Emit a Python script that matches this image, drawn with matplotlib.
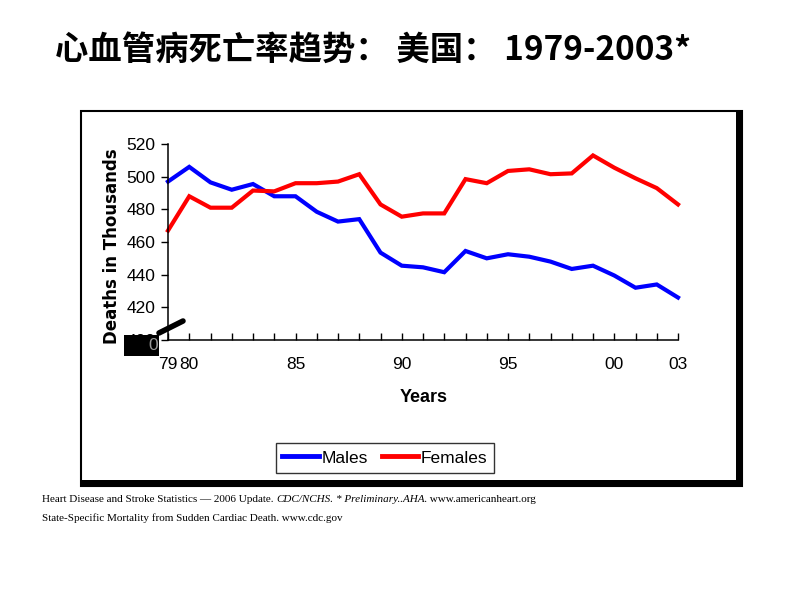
#!/usr/bin/env python3
"""CVD deaths in the US by sex, 1979-2003 (slide recreation)."""

import matplotlib

matplotlib.use("Agg")
import matplotlib.pyplot as plt
from matplotlib.lines import Line2D
from matplotlib.patches import Rectangle

years = list(range(1979, 2004))
males = [497, 506, 496.5, 492, 495.5, 488, 488, 478.5, 472.5, 474, 453.5, 445.5, 444.5,
         441.5, 454.5, 450, 452.5, 451, 448, 443.5, 445.5, 439.5, 432, 434, 426]
females = [467, 488, 481, 481, 491.5, 491, 496, 496, 497, 501.5, 483, 475.5, 477.5,
           477.5, 498.5, 496, 503.5, 504.5, 501.5, 502, 513, 505.5, 499, 493, 483]
tick_years = [1979, 1980, 1985, 1990, 1995, 2000, 2003]
tick_labels = ["79", "80", "85", "90", "95", "00", "03"]
yticks = [400, 420, 440, 460, 480, 500, 520]

W, H = 800, 600
SANS = ["Liberation Sans Narrow", "Liberation Sans"]


def fx(px):
    return px / W


def fy(py):
    return 1 - py / H


fig = plt.figure(figsize=(8, 6), dpi=100)
fig.patch.set_facecolor("white")

# title
fig.text(fx(55), fy(50), "心血管病死亡率趋势： 美国： 1979-2003*",
         family=["Noto Sans CJK SC", "DejaVu Sans"], fontweight="bold",
         fontsize=24, va="center", ha="left")

# chart frame with shadow
fig.patches.append(Rectangle((fx(81), fy(486)), fx(742) - fx(81), fy(111) - fy(486),
                             transform=fig.transFigure, fill=False, edgecolor="black",
                             linewidth=1.5, zorder=0))
fig.patches.append(Rectangle((fx(736), fy(486)), fx(6), fy(111) - fy(486),
                             transform=fig.transFigure, facecolor="black",
                             edgecolor="none", zorder=0))
fig.patches.append(Rectangle((fx(81), fy(486)), fx(742) - fx(81), 6 / H,
                             transform=fig.transFigure, facecolor="black",
                             edgecolor="none", zorder=0))

ax = fig.add_axes([fx(168), fy(340), fx(678) - fx(168), fy(144) - fy(340)])
ax.plot(years, males, color="#0000ff", linewidth=3, solid_joinstyle="miter", clip_on=False)
ax.plot(years, females, color="#ff0000", linewidth=3, solid_joinstyle="miter", clip_on=False)
ax.set_xlim(1979, 2003)
ax.set_ylim(400, 520)
ax.set_yticks(yticks)
ax.set_xticks(years)
ax.set_xticklabels([tick_labels[tick_years.index(y)] if y in tick_years else "" for y in years])
for s in ["top", "right"]:
    ax.spines[s].set_visible(False)
for s in ["left", "bottom"]:
    ax.spines[s].set_linewidth(1.1)
ax.tick_params(axis="y", direction="out", length=5, width=1, pad=4)
ax.tick_params(axis="x", direction="in", length=5, width=1, pad=12)
for lab in ax.get_xticklabels() + ax.get_yticklabels():
    lab.set_family(SANS)
    lab.set_fontsize(12.5)

fig.text(fx(112), fy(246), "Deaths in Thousands", rotation=90, ha="center", va="center",
         fontweight="bold", fontsize=12, family="DejaVu Sans")
fig.text(fx(424), fy(398), "Years", ha="center", va="center", fontweight="bold",
         fontsize=13, family=SANS)

# axis break leftovers
fig.patches.append(Rectangle((fx(124), fy(356)), fx(35), 21 / H, transform=fig.transFigure,
                             facecolor="black", edgecolor="none", zorder=5))
fig.text(fx(153), fy(345), "0", color="#9a9a9a", ha="center", va="center",
         fontsize=12.5, family=SANS, zorder=6)
fig.lines.append(Line2D([fx(159), fx(183)], [fy(333), fy(321)], transform=fig.transFigure,
                        color="black", linewidth=4, solid_capstyle="round", zorder=6))

# legend
handles = [Line2D([], [], color="#0000ff", linewidth=3.5),
           Line2D([], [], color="#ff0000", linewidth=3.5)]
leg = fig.legend(handles, ["Males", "Females"], loc="center",
                 bbox_to_anchor=(fx(385), fy(458)), ncol=2, frameon=True, fancybox=False,
                 edgecolor="black", prop={"family": SANS, "size": 12.5},
                 handlelength=2.1, handletextpad=0.15, columnspacing=0.8,
                 borderpad=0.4)
leg.get_frame().set_linewidth(1.0)

# footnotes with mixed italic parts
fig.canvas.draw()
renderer = fig.canvas.get_renderer()
SERIF = "Liberation Serif"
line1 = [("Heart Disease and Stroke Statistics \u2014 2006 Update. ", "normal"),
         ("CDC/NCHS.", "italic"), (" ", "normal"), ("* Preliminary..AHA.", "italic"),
         (" www.americanheart.org", "normal")]
x = fx(42)
for txt, style in line1:
    t = fig.text(x, fy(500), txt, family=SERIF, style=style, fontsize=8, va="center")
    bb = t.get_window_extent(renderer)
    x += bb.width / W
fig.text(fx(42), fy(518), "State-Specific Mortality from Sudden Cardiac Death. www.cdc.gov",
         family=SERIF, fontsize=8, va="center")

fig.savefig("out.png", dpi=100)
